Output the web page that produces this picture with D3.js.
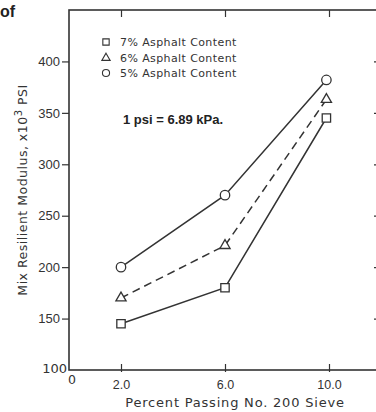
<!doctype html>
<html>
<head>
<style>
  body { margin: 0; background: #fff; }
  svg { display: block; font-family: "DejaVu Sans", "Liberation Sans", Arial, sans-serif; }
</style>
</head>
<body>
<div id="main"></div>
<script src="https://d3js.org/d3.v7.min.js"></script>
<script>
  var width = 376, height = 412;

  // data
  var passing = [2.0, 6.0, 9.9];
  var series = ['7% Asphalt Content', '6% Asphalt Content', '5% Asphalt Content'];
  var asphalt7 = [145, 180, 345];
  var asphalt6 = [170, 221, 363];
  var asphalt5 = [200, 270, 382];
  var yTicks = [150, 200, 250, 300, 350, 400];
  var xTicks = [2, 6, 10];
  var xTickLabels = ['2.0', '6.0', '10.0'];

  var ink = '#333';
  var svg = d3.select('#main').append('svg').attr('width', width).attr('height', height);

  var x = d3.scaleLinear().domain([0, 12]).range([69, 381]);
  var y = d3.scaleLinear().domain([100, 450]).range([370, 10]);

  // frame
  svg.append('rect')
    .attr('x', x(0)).attr('y', y(450))
    .attr('width', x(12) - x(0)).attr('height', y(100) - y(450))
    .attr('fill', 'none').attr('stroke', ink).attr('stroke-width', 1.6);

  // left axis, ticks outward
  var yAxis = d3.axisLeft(y).tickValues(yTicks).tickSize(7).tickPadding(2);
  var gy = svg.append('g').attr('transform', 'translate(' + x(0) + ',0)').call(yAxis);
  gy.select('.domain').remove();
  gy.selectAll('line').attr('stroke', ink).attr('stroke-width', 1.2);
  gy.selectAll('text').attr('fill', ink).style('font-size', '13px');

  // right axis ticks, inward
  var gr = svg.append('g').attr('transform', 'translate(' + x(12) + ',0)')
    .call(d3.axisLeft(y).tickValues(yTicks).tickSize(7).tickFormat(''));
  gr.select('.domain').remove();
  gr.selectAll('line').attr('stroke', ink).attr('stroke-width', 1.2);

  // bottom axis ticks crossing upward
  var gx = svg.append('g').attr('transform', 'translate(0,' + y(100) + ')')
    .call(d3.axisBottom(x).tickValues(xTicks).tickSize(-6).tickFormat(function(d, i) { return xTickLabels[i]; }).tickPadding(10));
  gx.select('.domain').remove();
  gx.selectAll('line').attr('stroke', ink).attr('stroke-width', 1.2).attr('y2', -6).attr('y1', 2);
  gx.selectAll('text').attr('fill', ink).style('font-size', '12.5px');

  // top axis ticks inward
  var gt = svg.append('g').attr('transform', 'translate(0,' + y(450) + ')')
    .call(d3.axisBottom(x).tickValues(xTicks).tickSize(7).tickFormat(''));
  gt.select('.domain').remove();
  gt.selectAll('line').attr('stroke', ink).attr('stroke-width', 1.2);

  // corner labels
  svg.append('text').attr('x', x(0) - 2).attr('y', y(100) + 3).attr('text-anchor', 'end')
    .attr('fill', ink).style('font-size', '13px').text('100');
  svg.append('text').attr('x', x(0) + 3).attr('y', y(100) + 14).attr('text-anchor', 'middle')
    .attr('fill', ink).style('font-size', '12.5px').text('0');

  // axis titles
  svg.append('text').attr('transform', 'translate(27,' + 190 + ') rotate(-90)')
    .attr('text-anchor', 'middle').attr('fill', ink).style('font-size', '12.5px')
    .style('letter-spacing', '0.5px')
    .html('Mix Resilient Modulus, x10<tspan dy="-5" font-size="10px">3</tspan><tspan dy="5"> PSI</tspan>');
  svg.append('text').attr('x', 235).attr('y', 407).attr('text-anchor', 'middle')
    .attr('fill', ink).style('font-size', '13px').style('letter-spacing', '0.8px')
    .text('Percent Passing No. 200 Sieve');

  svg.append('text').attr('x', 0).attr('y', 17).attr('fill', '#222')
    .style('font-size', '16px').style('font-weight', 'bold')
    .style('font-family', 'Liberation Sans, Arial, sans-serif').text('of');

  // series lines
  var line = d3.line().x(function(d, i) { return x(passing[i]); }).y(function(d) { return y(d); });
  var allSeries = [asphalt7, asphalt6, asphalt5];
  var dashes = [null, '8,5', null];
  var shapes = [d3.symbolSquare, d3.symbolTriangle, d3.symbolCircle];
  var sizes = [70, 45, 70];

  allSeries.forEach(function(vals, s) {
    svg.append('path').datum(vals).attr('d', line)
      .attr('fill', 'none').attr('stroke', ink).attr('stroke-width', 1.5)
      .attr('stroke-dasharray', dashes[s]);
    svg.selectAll('.m' + s).data(vals).enter().append('path')
      .attr('class', 'm' + s)
      .attr('transform', function(d, i) { return 'translate(' + x(passing[i]) + ',' + y(d) + ')'; })
      .attr('d', d3.symbol().type(shapes[s]).size(sizes[s]))
      .attr('fill', '#fff').attr('stroke', ink).attr('stroke-width', 1.3);
  });

  // legend
  var legendY = [42, 58, 73];
  series.forEach(function(name, s) {
    svg.append('path').attr('transform', 'translate(106,' + legendY[s] + ')')
      .attr('d', d3.symbol().type(shapes[s]).size(s == 1 ? 30 : 40))
      .attr('fill', '#fff').attr('stroke', ink).attr('stroke-width', 1.1);
    svg.append('text').attr('x', 120).attr('y', legendY[s] + 4)
      .attr('fill', ink).style('font-size', '11px').style('letter-spacing', '0.4px').text(name);
  });

  svg.append('text').attr('x', 123).attr('y', 124).attr('fill', '#222')
    .style('font-size', '13px').style('font-weight', 'bold')
    .style('font-family', 'Liberation Sans, Arial, sans-serif').text('1 psi = 6.89 kPa.');
</script>
</body>
</html>
